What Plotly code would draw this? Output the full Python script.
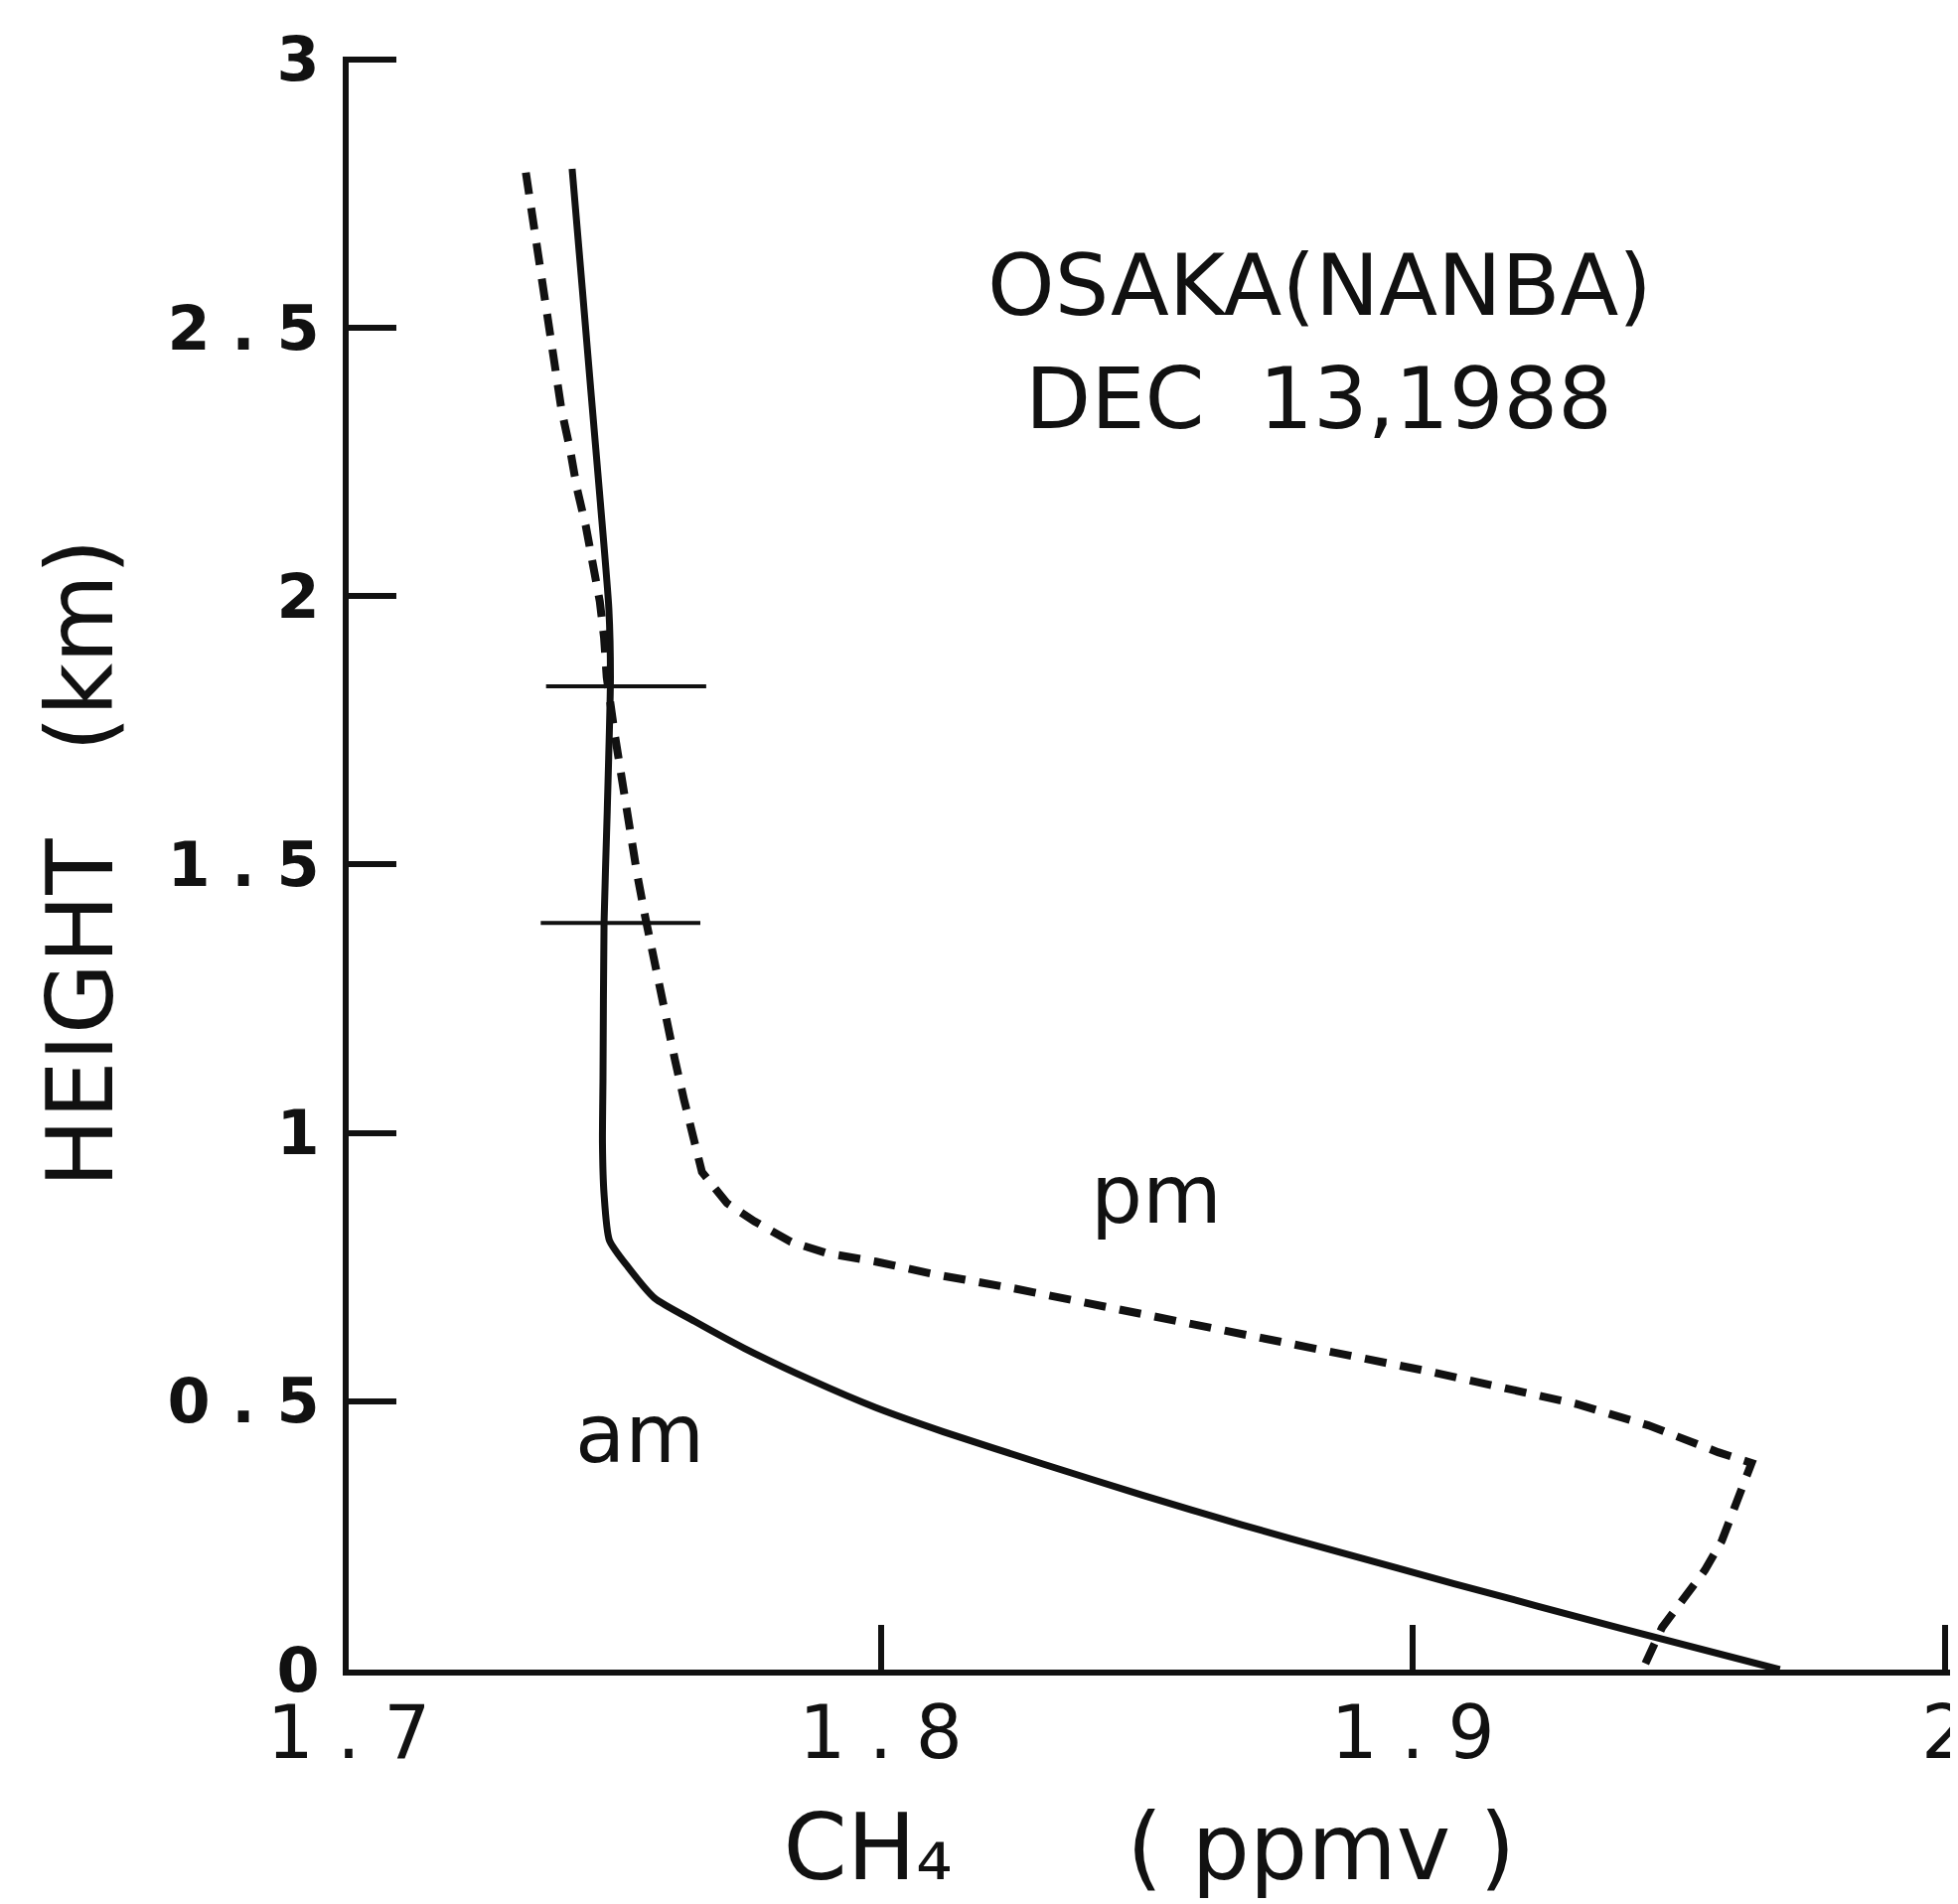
import plotly.graph_objects as go

# ---- data ----
am_ch4 = [1.7420, 1.7439, 1.7456, 1.7473, 1.7489, 1.7492, 1.7486, 1.7480, 1.7478, 1.7477,
          1.7480, 1.7490, 1.7525, 1.7575, 1.7650, 1.7743, 1.7868, 1.7991, 1.8118, 1.8305,
          1.8492, 1.8678, 1.8865, 1.9078, 1.9387, 1.9690]
am_height = [2.796, 2.574, 2.373, 2.175, 1.977, 1.849, 1.600, 1.391, 1.100, 0.981,
             0.886, 0.800, 0.750, 0.692, 0.649, 0.599, 0.540, 0.488, 0.443, 0.383,
             0.325, 0.270, 0.218, 0.160, 0.078, 0.000]

pm_ch4 = [1.7333, 1.7366, 1.7379, 1.7390, 1.7400, 1.7416, 1.7429, 1.7446, 1.7459,
          1.7472, 1.7480, 1.7485, 1.7500, 1.7517, 1.7529, 1.7542, 1.7557, 1.7568, 1.7586,
          1.7598, 1.7613, 1.7630, 1.7646, 1.7664, 1.7711, 1.7763, 1.7831, 1.7898, 1.7991,
          1.8103, 1.8251, 1.8387, 1.8521, 1.8663, 1.8820, 1.9028, 1.9171, 1.9307, 1.9443,
          1.9512, 1.9574, 1.9637, 1.9610, 1.9581, 1.9549, 1.9506, 1.9469, 1.9432]
pm_height = [2.789, 2.559, 2.487, 2.413, 2.347, 2.274, 2.201, 2.129, 2.062,
             1.990, 1.923, 1.849, 1.743, 1.632, 1.558, 1.483, 1.404, 1.348, 1.261,
             1.205, 1.137, 1.063, 0.996, 0.927, 0.869, 0.835, 0.797, 0.776, 0.760,
             0.736, 0.710, 0.683, 0.655, 0.627, 0.599, 0.556, 0.525, 0.495, 0.455,
             0.428, 0.405, 0.385, 0.310, 0.240, 0.185, 0.129, 0.079, 0.000]

# horizontal error bars on the am profile
bar_height = [1.832, 1.391]
bar_center = [1.7488, 1.7480]
bar_plus = [0.0184, 0.0181]
bar_minus = [0.0117, 0.0119]

x_tickvals = [1.7, 1.8, 1.9, 2.0]
x_ticktext = ["1 . 7", "1 . 8", "1 . 9", "2"]
y_tickvals = [0, 0.5, 1, 1.5, 2, 2.5, 3]
y_ticktext = ["0", "0 . 5", "1", "1 . 5", "2", "2 . 5", "3"]

FONT = "DejaVu Sans"
BLACK = "#111111"

fig = go.Figure()

fig.add_trace(go.Scatter(
    x=am_ch4, y=am_height, mode="lines", name="am",
    line=dict(color=BLACK, width=7, shape="spline", smoothing=0.6),
    showlegend=False, hoverinfo="skip"))

fig.add_trace(go.Scatter(
    x=pm_ch4, y=pm_height, mode="lines", name="pm",
    line=dict(color=BLACK, width=8, dash="22px,14px"),
    showlegend=False, hoverinfo="skip"))

fig.add_trace(go.Scatter(
    x=bar_center, y=bar_height, mode="markers", name="error",
    marker=dict(size=1, color="rgba(0,0,0,0)"),
    error_x=dict(type="data", symmetric=False, array=bar_plus, arrayminus=bar_minus,
                 color=BLACK, thickness=4, width=0),
    showlegend=False, hoverinfo="skip"))

fig.update_layout(
    template="none",
    width=1971, height=1917,
    margin=dict(l=343, r=16, t=49, b=244, pad=0),
    paper_bgcolor="white", plot_bgcolor="white",
    font=dict(family=FONT, color=BLACK),
    showlegend=False,
    xaxis=dict(
        range=[1.7, 2.001], tickmode="array", tickvals=x_tickvals, ticktext=x_ticktext,
        ticks="inside", ticklen=45, tickwidth=6, tickcolor=BLACK,
        showline=True, linewidth=6, linecolor=BLACK, mirror=False,
        showgrid=False, zeroline=False, automargin=False,
        ticklabeloverflow="allow",
        tickfont=dict(family=FONT, size=74, color=BLACK), ticklabelstandoff=-6,
        title=dict(text="CH\u2084\u00a0\u00a0\u00a0\u00a0\u00a0\u00a0( ppmv )",
                   font=dict(family=FONT, size=92, color=BLACK), standoff=44),
    ),
    yaxis=dict(
        range=[0, 3.005], tickmode="array", tickvals=y_tickvals, ticktext=y_ticktext,
        ticks="inside", ticklen=48, tickwidth=6, tickcolor=BLACK,
        showline=True, linewidth=6, linecolor=BLACK, mirror=False,
        showgrid=False, zeroline=False, automargin=False,
        tickfont=dict(family=FONT, size=62, color=BLACK, weight="bold"), ticklabelstandoff=11,
        title=dict(text="HEIGHT\u00a0\u00a0\u00a0(km)",
                   font=dict(family=FONT, size=92, color=BLACK), standoff=26),
    ),
    annotations=[
        dict(x=1.8826, y=2.580, xref="x", yref="y", text="OSAKA(NANBA)", showarrow=False,
             xanchor="center", yanchor="middle", font=dict(family=FONT, size=86, color=BLACK)),
        dict(x=1.8823, y=2.368, xref="x", yref="y", text="DEC\u00a0 13,1988", showarrow=False,
             xanchor="center", yanchor="middle", font=dict(family=FONT, size=86, color=BLACK)),
        dict(x=1.8518, y=0.886, xref="x", yref="y", text="pm", showarrow=False,
             xanchor="center", yanchor="middle", font=dict(family=FONT, size=82, color=BLACK)),
        dict(x=1.7547, y=0.44, xref="x", yref="y", text="am", showarrow=False,
             xanchor="center", yanchor="middle", font=dict(family=FONT, size=82, color=BLACK)),
    ],
)

fig.write_html("out.html")
